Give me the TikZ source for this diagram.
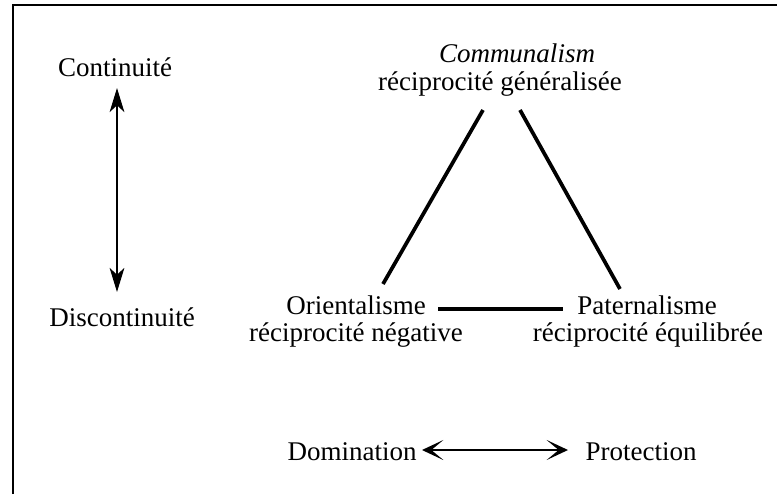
\documentclass[tikz,border=0pt]{standalone}
\usepackage{fontspec}
\setmainfont{Liberation Serif}
\usetikzlibrary{arrows.meta}
\tikzset{
  lbl/.style={inner sep=0pt, anchor=base, font=\fontsize{20.25}{21}\selectfont},
  tri/.style={line width=2.8pt, line cap=butt},
  varrow/.style={line width=1.7pt, {Stealth[length=18pt,width=11pt,inset=5pt]}-{Stealth[length=18pt,width=11pt,inset=5pt]}},
  harrow/.style={line width=1.8pt, {Stealth[length=16pt,width=15pt,inset=9pt]}-{Stealth[length=16pt,width=15pt,inset=9pt]}},
  frame/.style={line width=1.8pt}
}
\begin{document}
\begin{tikzpicture}[x=0.75pt,y=-0.75pt]
\useasboundingbox (0,0) rectangle (777,494);
% frame
\coordinate (fb) at (13,494);
\coordinate (fc) at (13,5);
\coordinate (fr) at (777,5);
\draw[frame] (fb) -- (fc) -- (fr);
% labels
\node[lbl] (cont) at (115,76) {Continuité};
\node[lbl] (disc) at (122,326) {Discontinuité};
\node[lbl] (comm) at (517,62) {\itshape Communalism};
\node[lbl] (recgen) at (500,90) {réciprocité généralisée};
\node[lbl] (orient) at (356,314) {Orientalisme};
\node[lbl] (recneg) at (356,341) {réciprocité négative};
\node[lbl] (patern) at (647,314) {Paternalisme};
\node[lbl] (recequ) at (648,341) {réciprocité équilibrée};
\node[lbl] (domin) at (352,460) {Domination};
\node[lbl] (protec) at (641,460) {Protection};
% triangle
\coordinate (tl) at (483,110);
\coordinate (tr) at (520,110);
\coordinate (ll) at (383,284);
\coordinate (rr) at (620,289);
\coordinate (bl) at (438,309);
\coordinate (br) at (563,309);
\draw[tri] (tl) -- (ll);
\draw[tri] (tr) -- (rr);
\draw[tri] (bl) -- (br);
% arrows
\coordinate (vt) at (117,88);
\coordinate (vb) at (117,292);
\draw[varrow] (vt) -- (vb);
\coordinate (hl) at (422,450);
\coordinate (hr) at (568,450);
\draw[harrow] (hl) -- (hr);
\end{tikzpicture}
\end{document}
